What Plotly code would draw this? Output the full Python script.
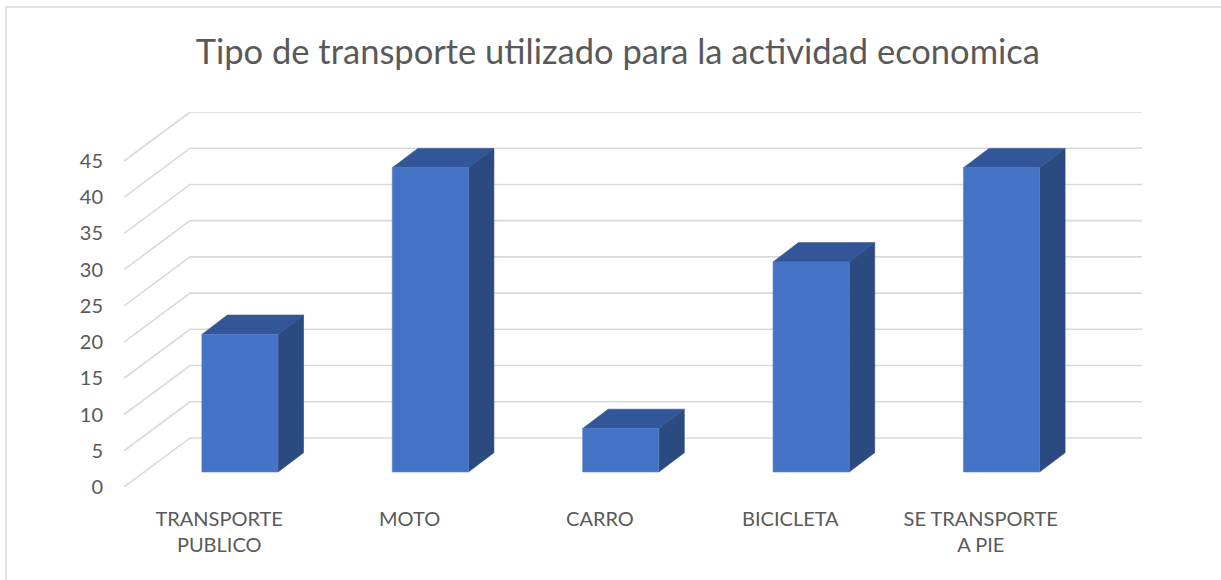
import plotly.graph_objects as go

# datos
categorias = ['TRANSPORTE<br>PUBLICO', 'MOTO', 'CARRO', 'BICICLETA', 'SE TRANSPORTE<br>A PIE']
valores = [19, 42, 6, 29, 42]
ticks_y = [0, 5, 10, 15, 20, 25, 30, 35, 40, 45]

# proyeccion oblicua (unidades de categoria / unidades de valor)
wall_dx, wall_dy = 0.347, 6.77      # profundidad total del piso
front_dx, front_dy = 0.109, 2.07    # donde empieza la cara frontal de la barra
bar_dx, bar_dy = 0.134, 2.67        # profundidad de la barra
half_w = 0.2

c_front = '#4472C4'
c_top = '#325697'
c_side = '#2B4A80'
c_grid = '#D9D9D9'
c_text = '#595959'

fig = go.Figure()

# lineas de cuadricula: diagonal en el piso lateral + pared del fondo
gx, gy = [], []
x_left, x_right = -0.5, len(categorias) - 0.5
for t in ticks_y:
    gx += [x_left, x_left + wall_dx, x_right + wall_dx, None]
    gy += [t, t + wall_dy, t + wall_dy, None]
fig.add_trace(go.Scatter(x=gx, y=gy, mode='lines', line=dict(color=c_grid, width=1.6),
                         hoverinfo='skip', showlegend=False))


def cara(xs, ys, color, borde):
    fig.add_trace(go.Scatter(x=xs, y=ys, fill='toself', fillcolor=color, mode='lines',
                             line=dict(color=borde, width=0.6), hoverinfo='skip', showlegend=False))


# barras: lado, tapa y frente
for i, v in enumerate(valores):
    xc = i + front_dx
    xl, xr = xc - half_w, xc + half_w
    b = front_dy
    cara([xr, xr + bar_dx, xr + bar_dx, xr, xr],
         [b, b + bar_dy, b + v + bar_dy, b + v, b], c_side, c_side)
    cara([xl, xr, xr + bar_dx, xl + bar_dx, xl],
         [b + v, b + v, b + v + bar_dy, b + v + bar_dy, b + v], c_top, c_top)
    cara([xl, xr, xr, xl, xl], [b, b, b + v, b + v, b], c_front, '#5B87D3')

fig.update_layout(
    width=1221, height=580,
    margin=dict(l=124, r=79, t=112, b=93),
    paper_bgcolor='white', plot_bgcolor='white',
    font=dict(family='Lato, sans-serif', color=c_text),
    title=dict(text='Tipo de transporte utilizado para la actividad economica',
               x=0.506, xref='container', xanchor='center',
               y=1 - 52 / 580, yref='container', yanchor='middle',
               font=dict(size=34.5, color=c_text)),
    xaxis=dict(range=[x_left, x_right + wall_dx], tickvals=list(range(len(categorias))),
               ticktext=categorias, showgrid=False, zeroline=False, showline=False,
               tickfont=dict(size=20), ticklabelstandoff=18),
    yaxis=dict(range=[0, ticks_y[-1] + wall_dy], tickvals=ticks_y, showgrid=False,
               zeroline=False, showline=False, tickfont=dict(size=20), ticklabelstandoff=20),
    shapes=[dict(type='rect', xref='paper', yref='paper', x0=(6 - 124) / 1018, x1=1.2,
                 y0=-0.3, y1=(487 - 7) / 375, line=dict(color=c_grid, width=1.5),
                 fillcolor='rgba(0,0,0,0)', layer='below')],
)

fig.write_html('out.html', config={'displayModeBar': False},
               post_script="document.body.style.margin='0';")
